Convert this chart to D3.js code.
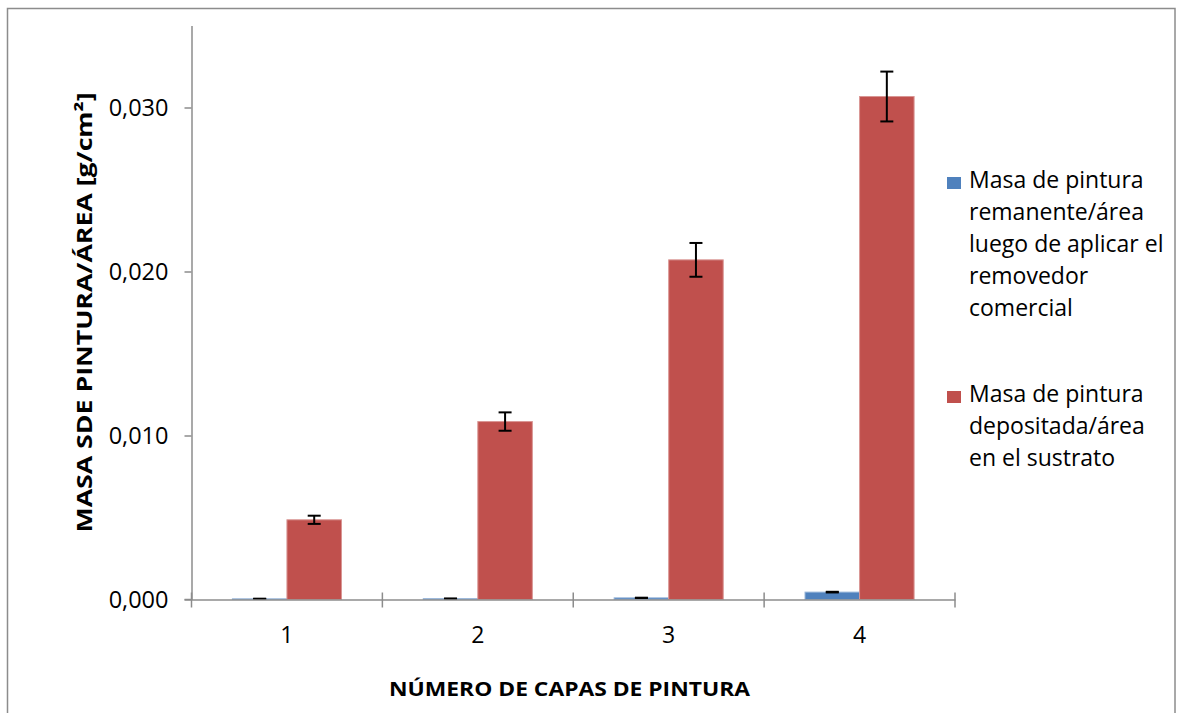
<!DOCTYPE html>
<html>
<head>
<meta charset="utf-8">
<script src="https://cdn.jsdelivr.net/npm/d3@7"></script>
<style>
  html, body { margin: 0; padding: 0; background: #fff; }
  svg { display: block; }
  text { font-family: "Open Sans", "Noto Sans", sans-serif; fill: #000; }
</style>
</head>
<body>
<svg id="chart" width="1178" height="713"></svg>
<script>
const categories = ["1", "2", "3", "4"];
const seriesNames = [
  "Masa de pintura remanente/área luego de aplicar el removedor comercial",
  "Masa de pintura depositada/área en el sustrato"
];
const remanente = [0.00004, 0.00005, 0.00010, 0.00045];
const remanenteErr = [0.00001, 0.00001, 0.00001, 0.00002];
const depositada = [0.00486, 0.01085, 0.02071, 0.03067];
const depositadaErr = [0.00025, 0.00056, 0.00103, 0.00152];
const yTicks = [0, 0.01, 0.02, 0.03];
const legendLines = [
  ["Masa de pintura", "remanente/área", "luego de aplicar el", "removedor", "comercial"],
  ["Masa de pintura", "depositada/área", "en el sustrato"]
];
const colors = ["#4F81BD", "#C0504D"];
const edgeColors = ["#95B3D7", "#D99694"];

const svg = d3.select("#chart");

// outer border
svg.append("rect").attr("x", 7.5).attr("y", 8.5).attr("width", 1167.5).attr("height", 720)
  .attr("fill", "none").attr("stroke", "#8c8c8c").attr("stroke-width", 1.5);

const plot = { left: 191.5, right: 955, top: 25.5, bottom: 599.5 };

const x = d3.scaleBand().domain(categories).range([plot.left, plot.right]).paddingInner(0).paddingOuter(0);
const xs = d3.scaleBand().domain([0, 1]).range([0, x.bandwidth()]).paddingInner(0).paddingOuter(0.75);
const y = d3.scaleLinear().domain([0, 0.035]).range([plot.bottom, plot.top]);

const data = categories.map((c, i) => ({
  cat: c,
  vals: [
    { s: 0, v: remanente[i], e: remanenteErr[i] },
    { s: 1, v: depositada[i], e: depositadaErr[i] }
  ]
}));

const groups = svg.append("g").selectAll("g").data(data).join("g")
  .attr("transform", d => `translate(${x(d.cat)},0)`);

groups.selectAll("rect").data(d => d.vals).join("rect")
  .attr("x", d => xs(d.s))
  .attr("y", d => y(d.v))
  .attr("width", xs.bandwidth())
  .attr("height", d => y(0) - y(d.v))
  .attr("fill", d => colors[d.s])
  .attr("stroke", d => edgeColors[d.s])
  .attr("stroke-width", 1);

// error bars
const eb = groups.selectAll("g.err").data(d => d.vals).join("g").attr("class", "err")
  .attr("transform", d => `translate(${xs(d.s) + xs.bandwidth() / 2},0)`);
eb.append("line").attr("x1", 0).attr("x2", 0)
  .attr("y1", d => y(d.v + d.e)).attr("y2", d => y(d.v - d.e))
  .attr("stroke", "#000").attr("stroke-width", 2);
eb.append("line").attr("x1", -6.5).attr("x2", 6.5)
  .attr("y1", d => y(d.v + d.e)).attr("y2", d => y(d.v + d.e))
  .attr("stroke", "#000").attr("stroke-width", 2);
eb.append("line").attr("x1", -6.5).attr("x2", 6.5)
  .attr("y1", d => y(d.v - d.e)).attr("y2", d => y(d.v - d.e))
  .attr("stroke", "#000").attr("stroke-width", 2);

// y axis
const fmt = v => d3.format(".3f")(v).replace(".", ",");
const yAxis = svg.append("g").attr("transform", `translate(${plot.left},0)`)
  .call(d3.axisLeft(y).tickValues(yTicks).tickFormat(fmt).tickSize(7).tickPadding(16).tickSizeOuter(0));
yAxis.select(".domain").attr("stroke", "#8c8c8c").attr("stroke-width", 1.5);
yAxis.selectAll(".tick line").attr("stroke", "#8c8c8c").attr("stroke-width", 1.5);
yAxis.selectAll(".tick text").attr("font-size", 23.5).attr("font-family", "Open Sans").attr("fill", "#000");

// x axis
const xAxis = svg.append("g").attr("transform", `translate(0,${plot.bottom})`)
  .call(d3.axisBottom(x).tickSize(0).tickPadding(27).tickSizeOuter(0));
xAxis.select(".domain").attr("stroke", "#8c8c8c").attr("stroke-width", 1.5);
xAxis.selectAll(".tick text").attr("font-size", 23).attr("font-family", "Open Sans").attr("fill", "#000");
const bounds = categories.map(c => x(c)).concat([x.range()[1]]);
xAxis.selectAll("line.bnd").data(bounds).join("line").attr("class", "bnd")
  .attr("x1", d => d).attr("x2", d => d).attr("y1", -7).attr("y2", 8)
  .attr("stroke", "#8c8c8c").attr("stroke-width", 1.5);
xAxis.append("line").attr("x1", plot.left - 7).attr("x2", plot.left).attr("y1", 0).attr("y2", 0)
  .attr("stroke", "#8c8c8c").attr("stroke-width", 1.5);

// axis titles
svg.append("text").attr("x", (389 + 750) / 2).attr("y", 696)
  .attr("text-anchor", "middle").attr("font-weight", "bold").attr("font-size", 20)
  .attr("textLength", 361).attr("lengthAdjust", "spacingAndGlyphs")
  .text("NÚMERO DE CAPAS DE PINTURA");

svg.append("text")
  .attr("transform", `translate(92,${(plot.top + plot.bottom) / 2}) rotate(-90)`)
  .attr("text-anchor", "middle").attr("font-weight", "bold").attr("font-size", 21)
  .attr("textLength", 440).attr("lengthAdjust", "spacingAndGlyphs")
  .text("MASA SDE PINTURA/ÁREA [g/cm²]");

// legend
const legendY0 = [188, 402];
legendLines.forEach((lines, s) => {
  svg.append("rect").attr("x", 947).attr("y", legendY0[s] - 11).attr("width", 14).attr("height", 12)
    .attr("fill", colors[s]);
  const t = svg.append("text").attr("x", 969).attr("y", legendY0[s]).attr("font-size", 23);
  lines.forEach((ln, k) => {
    t.append("tspan").attr("x", 969).attr("dy", k === 0 ? 0 : 32).text(ln);
  });
});
</script>
</body>
</html>
